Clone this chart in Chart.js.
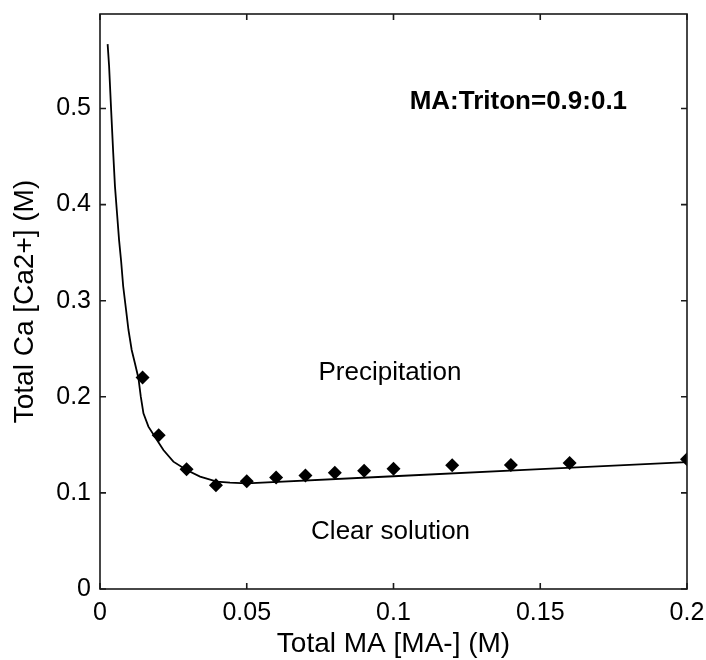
<!DOCTYPE html>
<html lang="en">
<head>
  <meta charset="UTF-8">
  <title>Total Ca vs Total MA</title>
  <script src="https://cdn.jsdelivr.net/npm/chart.js"></script>
  <style>
    body { margin: 0; background: #fff; }
    #wrap { width: 706px; height: 660px; }
  </style>
</head>
<body>
  <div id="wrap"><canvas id="caChart" width="706" height="660"></canvas></div>

  <script>
    // measured points (diamonds)
    const measX = [0.0145, 0.02, 0.0295, 0.0395, 0.05, 0.06, 0.07, 0.08, 0.09, 0.1, 0.12, 0.14, 0.16, 0.2];
    const measY = [0.220, 0.160, 0.1245, 0.108, 0.112, 0.116, 0.118, 0.121, 0.123, 0.125, 0.1287, 0.129, 0.131, 0.135];

    // fitted boundary curve
    const fitX = [0.0026, 0.0031, 0.0038, 0.0045, 0.0051, 0.0058, 0.0065, 0.0072, 0.0079, 0.0089,
                  0.0097, 0.0108, 0.0119, 0.0131, 0.0139, 0.0148, 0.0165, 0.0187, 0.0216, 0.025,
                  0.0295, 0.0341, 0.0398, 0.0443, 0.05, 0.1, 0.15, 0.2];
    const fitY = [0.567, 0.544, 0.498, 0.454, 0.419, 0.391, 0.363, 0.341, 0.315, 0.290,
                  0.2695, 0.2487, 0.2349, 0.2193, 0.2001, 0.1828, 0.1689, 0.1585, 0.1446, 0.1325,
                  0.1238, 0.1169, 0.1117, 0.1106, 0.110, 0.1173, 0.1247, 0.132];

    const xTicks = [0, 0.05, 0.1, 0.15, 0.2];
    const yTicks = [0, 0.1, 0.2, 0.3, 0.4, 0.5];

    // text written inside the axes
    const notes = [
      { text: 'MA:Triton=0.9:0.1', x: 0.1055, y: 0.507, bold: true, align: 'left' },
      { text: 'Precipitation', x: 0.0988, y: 0.225, bold: false, align: 'center' },
      { text: 'Clear solution', x: 0.0990, y: 0.059, bold: false, align: 'center' }
    ];

    const FONT = '"Liberation Sans", Arial, Helvetica, sans-serif';

    // box around the axes with inward ticks, like matlab
    const boxPlugin = {
      id: 'box',
      afterDatasetsDraw(chart) {
        const { ctx, chartArea: a, scales } = chart;
        ctx.save();
        ctx.strokeStyle = '#1a1a1a';
        ctx.lineWidth = 1.6;
        ctx.strokeRect(a.left, a.top, a.right - a.left, a.bottom - a.top);
        const len = 6;
        ctx.beginPath();
        xTicks.forEach(v => {
          const px = scales.x.getPixelForValue(v);
          ctx.moveTo(px, a.bottom); ctx.lineTo(px, a.bottom - len);
          ctx.moveTo(px, a.top); ctx.lineTo(px, a.top + len);
        });
        yTicks.forEach(v => {
          const py = scales.y.getPixelForValue(v);
          ctx.moveTo(a.left, py); ctx.lineTo(a.left + len, py);
          ctx.moveTo(a.right, py); ctx.lineTo(a.right - len, py);
        });
        ctx.stroke();

        ctx.fillStyle = '#000';
        ctx.textBaseline = 'middle';
        notes.forEach(n => {
          ctx.font = (n.bold ? 'bold 26px ' : '26px ') + FONT;
          ctx.textAlign = n.align;
          ctx.fillText(n.text, scales.x.getPixelForValue(n.x), scales.y.getPixelForValue(n.y));
        });
        ctx.restore();
      }
    };

    const fmt = v => String(+Number(v).toFixed(3));

    const ctx = document.getElementById('caChart').getContext('2d');
    const chart = new Chart(ctx, {
      type: 'scatter',
      data: {
        datasets: [{
          label: 'fit',
          data: fitX.map((x, i) => ({ x: x, y: fitY[i] })),
          showLine: true,
          borderColor: '#000',
          borderWidth: 1.8,
          pointRadius: 0,
          tension: 0,
          fill: false
        }, {
          label: 'measured',
          data: measX.map((x, i) => ({ x: x, y: measY[i] })),
          showLine: false,
          pointStyle: 'rectRot',
          pointRadius: 7,
          backgroundColor: '#000',
          borderColor: '#000',
          borderWidth: 0
        }]
      },
      options: {
        responsive: false,
        animation: false,
        devicePixelRatio: 1,
        layout: { padding: { top: 14, right: 19, left: 0, bottom: 0 } },
        plugins: { legend: { display: false }, tooltip: { enabled: false } },
        scales: {
          x: {
            type: 'linear', min: 0, max: 0.2,
            grid: { display: false, drawTicks: false },
            border: { display: false },
            afterBuildTicks: s => { s.ticks = xTicks.map(v => ({ value: v })); },
            afterFit: s => { s.height = 71; s.paddingLeft = 0; s.paddingRight = 0; },
            ticks: { callback: fmt, color: '#000', padding: 9, maxRotation: 0,
                     font: { family: FONT, size: 25 } },
            title: { display: true, text: 'Total MA [MA-] (M)', color: '#000',
                     font: { family: FONT, size: 28 }, padding: { top: 0, bottom: -1 } }
          },
          y: {
            type: 'linear', min: 0, max: 0.5983,
            grid: { display: false, drawTicks: false },
            border: { display: false },
            afterBuildTicks: s => { s.ticks = yTicks.map(v => ({ value: v })); },
            afterFit: s => { s.width = 100; s.paddingTop = 0; s.paddingBottom = 0; },
            ticks: { callback: fmt, color: '#000', padding: 9,
                     font: { family: FONT, size: 25 } },
            title: { display: true, text: 'Total Ca [Ca2+] (M)', color: '#000',
                     font: { family: FONT, size: 28 }, padding: { top: 8, bottom: 0 } }
          }
        }
      },
      plugins: [boxPlugin]
    });
  </script>
</body>
</html>
